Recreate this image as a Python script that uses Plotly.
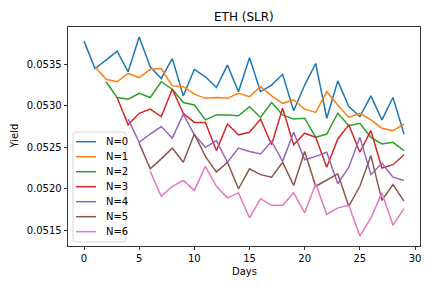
import plotly.graph_objects as go

# ---- data ----
series_names = ["N=0", "N=1", "N=2", "N=3", "N=4", "N=5", "N=6"]
start_days = [0, 1, 2, 3, 4, 5, 6]

n0 = [0.05378, 0.05345, 0.05355, 0.05366, 0.05341, 0.05383, 0.05347, 0.05333, 0.05357, 0.05312,
      0.05344, 0.05335, 0.05322, 0.05349, 0.05317, 0.05358, 0.05317, 0.05325, 0.05338, 0.05294,
      0.05325, 0.05351, 0.05285, 0.05330, 0.05299, 0.05287, 0.05312, 0.05283, 0.05310, 0.05266]
n1 = [0.05347, 0.05332, 0.05329, 0.05339, 0.05334, 0.05344, 0.05345, 0.05324, 0.05323, 0.05314,
      0.05309, 0.05310, 0.05309, 0.05315, 0.05311, 0.05323, 0.05312, 0.05303, 0.05307, 0.05296,
      0.05292, 0.05317, 0.05301, 0.05286, 0.05291, 0.05283, 0.05273, 0.05270, 0.05278]
n2 = [0.05329, 0.05310, 0.05308, 0.05315, 0.05310, 0.05329, 0.05320, 0.05304, 0.05301, 0.05283,
      0.05289, 0.05289, 0.05288, 0.05299, 0.05286, 0.05304, 0.05289, 0.05284, 0.05285, 0.05262,
      0.05266, 0.05291, 0.05276, 0.05279, 0.05262, 0.05254, 0.05256, 0.05246]
n3 = [0.05310, 0.05277, 0.05291, 0.05296, 0.05287, 0.05320, 0.05291, 0.05280, 0.05280, 0.05246,
      0.05278, 0.05265, 0.05268, 0.05284, 0.05253, 0.05297, 0.05253, 0.05267, 0.05262, 0.05226,
      0.05260, 0.05277, 0.05244, 0.05270, 0.05225, 0.05229, 0.05241]
n4 = [0.05284, 0.05256, 0.05266, 0.05275, 0.05261, 0.05290, 0.05265, 0.05250, 0.05258, 0.05232,
      0.05249, 0.05245, 0.05242, 0.05257, 0.05233, 0.05268, 0.05235, 0.05239, 0.05244, 0.05206,
      0.05226, 0.05262, 0.05217, 0.05231, 0.05214, 0.05210]
n5 = [0.05255, 0.05224, 0.05236, 0.05249, 0.05232, 0.05266, 0.05239, 0.05220, 0.05232, 0.05200,
      0.05224, 0.05217, 0.05214, 0.05232, 0.05204, 0.05245, 0.05203, 0.05211, 0.05218, 0.05179,
      0.05203, 0.05240, 0.05186, 0.05205, 0.05185]
n6 = [0.05221, 0.05191, 0.05203, 0.05210, 0.05198, 0.05227, 0.05203, 0.05189, 0.05195, 0.05165,
      0.05188, 0.05180, 0.05180, 0.05195, 0.05171, 0.05206, 0.05169, 0.05177, 0.05180, 0.05143,
      0.05165, 0.05195, 0.05156, 0.05176]

series_values = [n0, n1, n2, n3, n4, n5, n6]
colors = ["#1f77b4", "#ff7f0e", "#2ca02c", "#d62728", "#9467bd", "#8c564b", "#e377c2"]

x_ticks = [0, 5, 10, 15, 20, 25, 30]
y_ticks = [0.0515, 0.0520, 0.0525, 0.0530, 0.0535]

title_text = "ETH (SLR)"
x_title = "Days"
y_title = "Yield"

# ---- figure geometry (pixels) ----
W, H = 432, 288
L, R, T, B = 68, 420, 27, 246
pw, ph = R - L, B - T

FONT = "DejaVu Sans"

fig = go.Figure()
all_vals = []
for name, s0, vals, c in zip(series_names, start_days, series_values, colors):
    xs = list(range(s0, s0 + len(vals)))
    all_vals += vals
    fig.add_trace(go.Scatter(x=xs, y=vals, mode="lines", name=name,
                             line=dict(color=c, width=1.5), showlegend=False))

# matplotlib-like 5% margins
xmin, xmax = 0, 29
ymin, ymax = min(all_vals), max(all_vals)
xpad = (xmax - xmin) * 0.05
ypad = (ymax - ymin) * 0.05

axis_common = dict(showgrid=False, zeroline=False, showline=True, mirror=True,
                   linecolor="black", linewidth=0.8, ticks="outside", ticklen=3.5,
                   tickwidth=0.8, tickcolor="black",
                   tickfont=dict(family=FONT, size=10, color="black"))

fig.update_xaxes(range=[xmin - xpad, xmax + xpad], tickvals=x_ticks,
                 ticktext=[str(v) for v in x_ticks], **axis_common)
fig.update_yaxes(range=[ymin - ypad, ymax + ypad], tickvals=y_ticks,
                 ticktext=["%.4f" % v for v in y_ticks], **axis_common)


def px(x):
    return (x - L) / pw


def py(y):
    return (B - y) / ph


annotations = [
    dict(text=title_text, x=0.5, y=py(17), xref="paper", yref="paper", showarrow=False,
         xanchor="center", yanchor="middle", font=dict(family=FONT, size=12, color="black")),
    dict(text=x_title, x=0.5, y=py(271), xref="paper", yref="paper", showarrow=False,
         xanchor="center", yanchor="middle", font=dict(family=FONT, size=10, color="black")),
    dict(text=y_title, x=px(14), y=0.5, xref="paper", yref="paper", showarrow=False,
         textangle=-90, xanchor="center", yanchor="middle",
         font=dict(family=FONT, size=10, color="black")),
]

# ---- matplotlib-style legend box (lower left) ----
bx0, bx1, by0, by1 = 73, 126, 132, 242
r = 3.0
rx, ry = r / pw, r / ph
X0, X1, Y0, Y1 = px(bx0), px(bx1), py(by1), py(by0)
path = (f"M {X0+rx},{Y0} L {X1-rx},{Y0} Q {X1},{Y0} {X1},{Y0+ry} "
        f"L {X1},{Y1-ry} Q {X1},{Y1} {X1-rx},{Y1} L {X0+rx},{Y1} "
        f"Q {X0},{Y1} {X0},{Y1-ry} L {X0},{Y0+ry} Q {X0},{Y0} {X0+rx},{Y0} Z")
shapes = [dict(type="path", path=path, xref="paper", yref="paper",
               fillcolor="rgba(255,255,255,0.8)", line=dict(color="#cccccc", width=0.8),
               layer="above")]
for i, (name, c) in enumerate(zip(series_names, colors)):
    yy = 141.7 + 15 * i
    shapes.append(dict(type="line", xref="paper", yref="paper", x0=px(76), x1=px(96),
                       y0=py(yy), y1=py(yy), line=dict(color=c, width=1.5), layer="above"))
    annotations.append(dict(text=name, x=px(104), y=py(yy), xref="paper", yref="paper",
                            showarrow=False, xanchor="left", yanchor="middle",
                            font=dict(family=FONT, size=10, color="black")))

fig.update_layout(width=W, height=H, margin=dict(l=L, r=W - R, t=T, b=H - B, pad=0),
                  paper_bgcolor="white", plot_bgcolor="white",
                  annotations=annotations, shapes=shapes, showlegend=False,
                  hovermode=False,
                  font=dict(family=FONT, size=10, color="black"))

fig.write_html("out.html",
               config={"displayModeBar": False, "staticPlot": True},
               post_script="document.body.style.margin='0';document.body.style.overflow='hidden';")
